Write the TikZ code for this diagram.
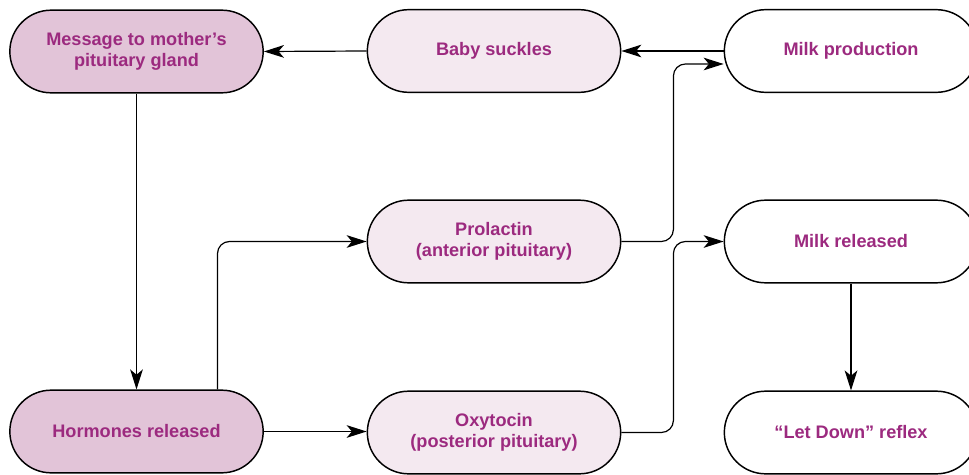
\documentclass[tikz,border=0pt]{standalone}
\usepackage{fontspec}
\setmainfont{Liberation Sans}
\usetikzlibrary{arrows.meta}
\definecolor{txt}{HTML}{9C2A7F}
\definecolor{dark}{HTML}{E2C4D8}
\definecolor{light}{HTML}{F4E9F0}
\tikzset{
  box/.style={draw=black, line width=1.1pt, rounded corners=31pt, minimum width=190pt, minimum height=62pt,
    align=center, font=\bfseries\fontsize{13.6pt}{15.8pt}\selectfont, text=txt, inner sep=0pt},
  dbox/.style={box, fill=dark},
  lbox/.style={box, fill=light},
  wbox/.style={box, fill=white},
  arr/.style={line width=0.9pt, rounded corners=9pt, -{Stealth[length=15pt,width=9.5pt,inset=4pt]}}
}
\begin{document}
\begin{tikzpicture}[x=0.75pt,y=-0.75pt]
\useasboundingbox (0,0) rectangle (969,474);
\node[dbox] (msg) at (136.5,51.5) {Message to mother’s\\pituitary gland};
\node[lbox] (baby) at (494,51) {Baby suckles};
\node[wbox] (mp) at (851,51) {Milk production};
\node[lbox] (pro) at (494,241.5) {Prolactin\\(anterior pituitary)};
\node[wbox] (mr) at (851,241.5) {Milk released};
\node[dbox] (hor) at (136.5,431.5) {Hormones released};
\node[lbox] (oxy) at (494,432.5) {Oxytocin\\(posterior pituitary)};
\node[wbox] (ld) at (851,432.5) {“Let Down” reflex};

\draw[arr] (baby.west) -- (msg.east);
\draw[arr] (mp.west) -- (baby.west -| baby.east);
\draw[arr] (msg.south) -- (hor.north);
\draw[arr] ([xshift=60.75pt]hor.north) |- (pro.west);
\draw[arr] (hor.east) -- (hor.east -| oxy.west);
\draw[arr] (pro.east) -- ++(52,0) |- ([yshift=-9.75pt]mp.west);
\draw[arr] (oxy.east) -- ++(52,0) |- (mr.west);
\draw[arr] (mr.south) -- (ld.north);
\end{tikzpicture}
\end{document}
